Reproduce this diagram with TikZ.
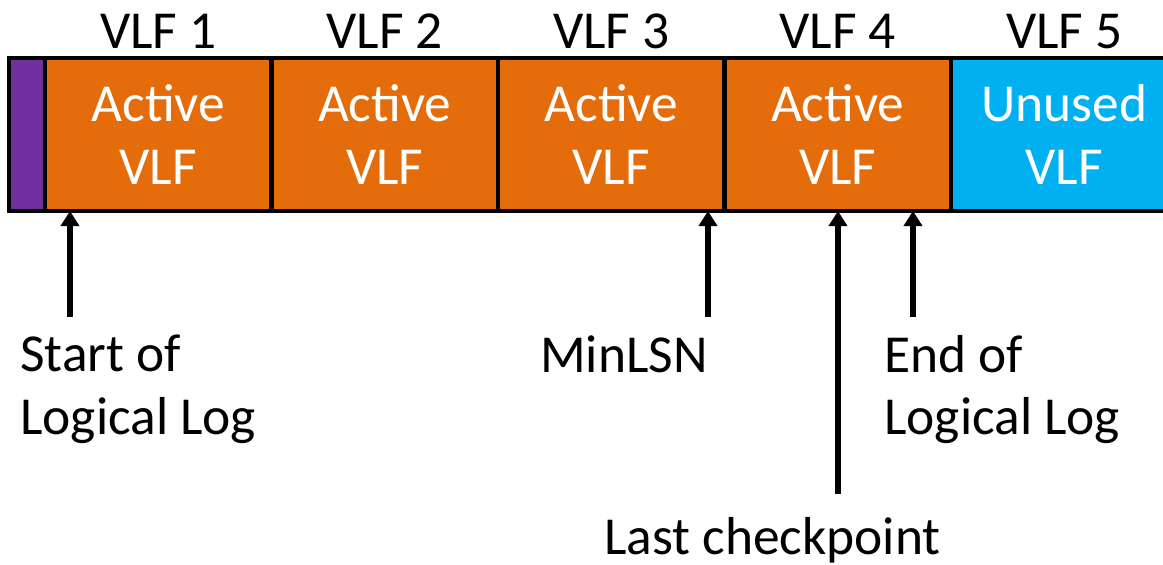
\documentclass[tikz,border=0pt]{standalone}
\usepackage{fontspec}
\setmainfont{Carlito}
\usetikzlibrary{positioning, arrows.meta}
\definecolor{vlforange}{RGB}{228,108,10}
\definecolor{vlfblue}{RGB}{0,176,240}
\definecolor{vlfpurple}{RGB}{112,48,160}
\tikzset{vlf/.style={draw,line width=2.3pt,minimum width=4.53cm,minimum height=3.06cm,inner sep=0pt,outer sep=0pt,text=white,align=center},
         active/.style={vlf,fill=vlforange},
         unused/.style={vlf,fill=vlfblue},
         header/.style={draw,line width=2.3pt,fill=vlfpurple,minimum width=0.72cm,minimum height=3.06cm,inner sep=0pt,outer sep=0pt},
         ptr/.style={-{Triangle[width=0.36cm,length=0.3cm]},line width=3.4pt},
         note/.style={inner sep=0pt,align=left},
        }

\begin{document}
\begin{tikzpicture}[font=\fontsize{30.4}{35.5}\selectfont]
        \useasboundingbox (0,0) rectangle (23.26,-11.28);
        \clip (0,0) rectangle (23.26,-11.28);
        \node[header](head)at(0.54,-2.69){};
        \node[active,right=0pt of head](vlf1){Active\\VLF};
        \node[active,right=0pt of vlf1](vlf2){Active\\VLF};
        \node[active,right=0pt of vlf2](vlf3){Active\\VLF};
        \node[active,right=0pt of vlf3](vlf4){Active\\VLF};
        \node[unused,right=0pt of vlf4](vlf5){Unused\\VLF};

        \node[anchor=base](n1)at([yshift=0.2cm]vlf1.north){VLF 1};
        \node[anchor=base](n2)at([yshift=0.2cm]vlf2.north){VLF 2};
        \node[anchor=base](n3)at([yshift=0.2cm]vlf3.north){VLF 3};
        \node[anchor=base](n4)at([yshift=0.2cm]vlf4.north){VLF 4};
        \node[anchor=base](n5)at([yshift=0.2cm]vlf5.north){VLF 5};

        \node[note,anchor=north west](start)at(0.4,-6.7){Start of\\Logical Log};
        \node[note,anchor=north east](minlsn)at(14.16,-6.7){MinLSN};
        \node[note,anchor=north west](endlog)at(17.68,-6.7){End of\\Logical Log};
        \node[note,anchor=north west](ckpt)at(12.08,-10.34){Last checkpoint};

        \coordinate(starttail)at(1.4,-6.34);
        \coordinate(minlsntail)at(14.16,-6.34);
        \coordinate(ckpttail)at(16.76,-9.88);
        \coordinate(endtail)at(18.26,-6.34);

        \draw[ptr](starttail)--(starttail|-vlf1.south);
        \draw[ptr](minlsntail)--(minlsntail|-vlf3.south);
        \draw[ptr](ckpttail)--(ckpttail|-vlf4.south);
        \draw[ptr](endtail)--(endtail|-vlf4.south);
    \end{tikzpicture}
\end{document}
